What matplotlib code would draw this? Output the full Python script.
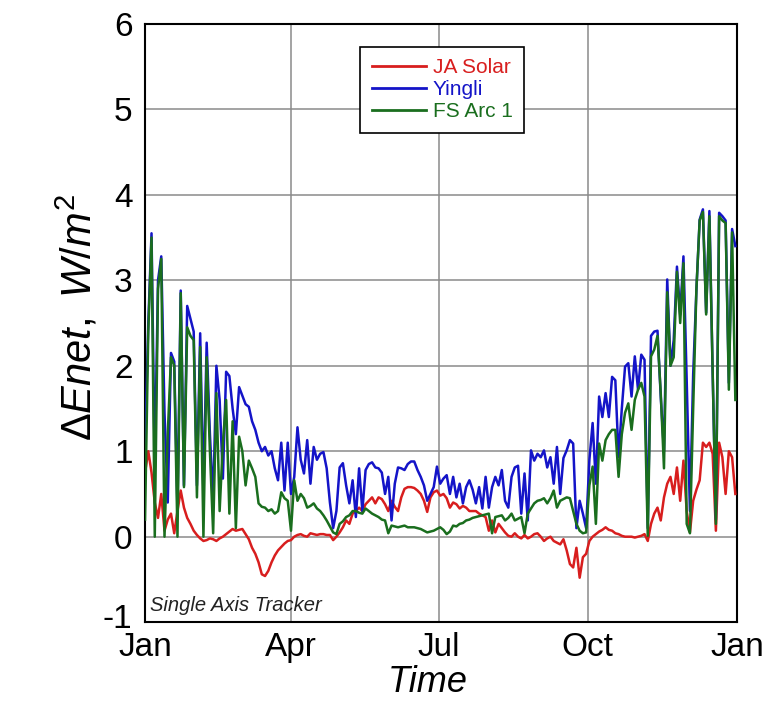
import matplotlib
matplotlib.use("Agg")
import matplotlib.pyplot as plt
import matplotlib.transforms as mtransforms
import numpy as np

plt.rcParams['font.family'] = ['Liberation Sans', 'DejaVu Sans']
plt.rcParams['mathtext.fontset'] = 'custom'
plt.rcParams['mathtext.rm'] = 'Liberation Sans'
plt.rcParams['mathtext.it'] = 'Liberation Sans:italic'
plt.rcParams['axes.unicode_minus'] = False

# day of year samples (every 2 days)
days = list(range(0, 365, 2))

ja_solar = [0.75, 1.0, 0.75, 0.4, 0.22, 0.5, 0.07, 0.2, 0.27, 0.04,
            0.3, 0.54, 0.34, 0.22, 0.15, 0.07, 0.02, -0.02, -0.05, -0.04,
            -0.02, -0.03, -0.05, -0.02, 0.0, 0.03, 0.06, 0.09, 0.07, 0.08,
            0.09, 0.03, -0.03, -0.13, -0.2, -0.3, -0.44, -0.46, -0.4, -0.3,
            -0.22, -0.16, -0.12, -0.08, -0.05, -0.04, 0.0, 0.02, 0.03, 0.01,
            0.0, 0.04, 0.03, 0.02, 0.03, 0.03, 0.02, 0.02, -0.04, 0.0,
            0.05, 0.11, 0.19, 0.15, 0.27, 0.3, 0.34, 0.3, 0.38, 0.42,
            0.46, 0.39, 0.46, 0.44, 0.38, 0.3, 0.42, 0.35, 0.3, 0.46,
            0.56, 0.58, 0.58, 0.57, 0.54, 0.5, 0.42, 0.29, 0.46, 0.52,
            0.54, 0.48, 0.5, 0.45, 0.34, 0.4, 0.38, 0.33, 0.36, 0.34,
            0.3, 0.3, 0.3, 0.27, 0.25, 0.23, 0.07, 0.19, 0.05, 0.15,
            0.1, 0.05, 0.01, 0.0, 0.04, 0.0, -0.02, 0.02, -0.02, 0.0,
            0.03, 0.04, 0.0, -0.05, -0.02, 0.0, -0.05, -0.07, -0.09, -0.03,
            -0.16, -0.32, -0.36, -0.13, -0.48, -0.24, -0.2, -0.05, 0.0, 0.03,
            0.06, 0.08, 0.11, 0.08, 0.07, 0.04, 0.03, 0.01, 0.0, 0.0,
            0.0, -0.01, 0.0, 0.01, 0.03, -0.05, 0.15, 0.27, 0.34, 0.19,
            0.46, 0.62, 0.7, 0.5, 0.81, 0.42, 0.89, 0.3, 0.05, 0.42,
            0.55, 0.66, 1.1, 1.05, 1.1, 0.97, 0.07, 1.1, 0.93, 0.5,
            1.0, 0.93, 0.5]

yingli = [1.0, 2.5, 3.55, 0.8, 3.0, 3.28, 1.45, 0.4, 2.15, 2.05,
          0.3, 2.88, 0.6, 2.7, 2.55, 2.4, 0.6, 2.38, 0.5, 2.27,
          1.2, 0.4, 2.0, 1.6, 0.68, 1.93, 1.88, 1.5, 1.2, 1.75,
          1.65, 1.55, 1.52, 1.35, 1.25, 1.1, 1.0, 1.05, 0.95, 1.0,
          0.8, 0.66, 1.1, 0.54, 1.1, 0.5, 0.7, 1.28, 0.9, 0.74,
          1.13, 0.62, 1.05, 0.9, 0.97, 0.99, 0.8, 0.4, 0.1, 0.3,
          0.81, 0.86, 0.6, 0.39, 0.66, 0.23, 0.8, 0.3, 0.78, 0.85,
          0.87, 0.81, 0.8, 0.75, 0.5, 0.7, 0.19, 0.62, 0.81, 0.8,
          0.78, 0.85, 0.88, 0.88, 0.78, 0.7, 0.6, 0.42, 0.5, 0.58,
          0.82, 0.62, 0.68, 0.72, 0.5, 0.7, 0.46, 0.62, 0.39, 0.58,
          0.66, 0.55, 0.39, 0.58, 0.33, 0.7, 0.34, 0.58, 0.7, 0.6,
          0.78, 0.42, 0.34, 0.7, 0.81, 0.83, 0.27, 0.74, 0.19, 1.01,
          0.89, 0.97, 0.93, 1.01, 0.81, 0.93, 0.62, 1.05, 0.5, 0.92,
          1.01, 1.13, 1.09, 0.1, 0.42, 0.27, 0.1, 0.9, 1.33, 0.62,
          1.64, 1.4, 1.68, 1.4, 1.87, 1.83, 0.93, 1.5, 1.99, 2.03,
          1.64, 2.11, 1.72, 2.13, 2.07, 0.1, 2.35, 2.4, 2.41, 1.64,
          1.0, 3.01, 2.0, 2.3, 3.16, 2.6, 3.28, 1.83, 0.3, 1.9,
          2.89, 3.71, 3.83, 2.62, 3.81, 1.92, 0.2, 3.79, 3.75, 3.7,
          1.8, 3.6, 3.4]

fs_arc1 = [0.2, 2.4, 3.5, 0.0, 2.9, 3.25, 0.0, 1.2, 2.1, 2.0,
           0.0, 2.85, 0.58, 2.45, 2.35, 2.3, 0.46, 2.22, 0.0, 2.1,
           1.0, 0.04, 1.68, 0.3, 1.1, 1.6, 0.27, 1.35, 0.1, 1.17,
           1.0, 0.6, 0.89, 0.8, 0.7, 0.39, 0.35, 0.34, 0.3, 0.32,
           0.27, 0.3, 0.52, 0.45, 0.42, 0.07, 0.66, 0.42, 0.5, 0.45,
           0.34, 0.36, 0.39, 0.33, 0.3, 0.25, 0.19, 0.12, 0.05, 0.03,
           0.15, 0.18, 0.23, 0.25, 0.3, 0.3, 0.28, 0.27, 0.33, 0.3,
           0.27, 0.25, 0.23, 0.2, 0.19, 0.04, 0.13, 0.12, 0.11, 0.12,
           0.13, 0.11, 0.11, 0.11, 0.1, 0.09, 0.07, 0.05, 0.06, 0.07,
           0.09, 0.11, 0.08, 0.03, 0.06, 0.13, 0.12, 0.15, 0.16, 0.19,
           0.2, 0.22, 0.23, 0.24, 0.25, 0.26, 0.27, 0.04, 0.23, 0.24,
           0.25, 0.19, 0.22, 0.27, 0.19, 0.21, 0.23, 0.04, 0.27, 0.33,
           0.39, 0.42, 0.43, 0.45, 0.39, 0.45, 0.54, 0.34, 0.42, 0.44,
           0.46, 0.45, 0.3, 0.15, 0.07, 0.04, 0.05, 0.6, 0.82, 0.15,
           1.09, 0.89, 1.13, 1.2, 1.25, 1.25, 0.7, 1.2, 1.45, 1.56,
           1.25, 1.6, 1.72, 1.8, 1.64, 0.01, 2.11, 2.19, 2.35, 1.68,
           0.8, 2.86, 2.0, 2.1, 3.1, 2.5, 3.2, 0.15, 0.04, 1.5,
           2.9, 3.7, 3.8, 2.6, 3.75, 1.92, 0.15, 3.75, 3.7, 3.67,
           1.72, 3.56, 1.6]

month_ticks = [0, 90, 181, 273, 365]
month_labels = ['Jan', 'Apr', 'Jul', 'Oct', 'Jan']

fig = plt.figure(figsize=(7.84, 7.03), dpi=100)
ax = fig.add_axes([0.185, 0.115, 0.755, 0.851])

ax.plot(days, ja_solar, color='#d81e1e', lw=1.8, label='JA Solar', zorder=3)
ax.plot(days, yingli, color='#1414c8', lw=1.8, label='Yingli', zorder=3)
ax.plot(days, fs_arc1, color='#1a6e1e', lw=1.8, label='FS Arc 1', zorder=4)

ax.set_xlim(0, 365)
ax.set_ylim(-1, 6)
ax.set_xticks(month_ticks)
ax.set_xticklabels(month_labels)
ax.set_yticks(range(-1, 7))
ax.tick_params(axis='both', labelsize=24, length=0)
ax.tick_params(axis='y', pad=9)
ax.tick_params(axis='x', pad=7)
ax.grid(True, color='#8a8a8a', lw=1.1, zorder=0)
for s in ax.spines.values():
    s.set_linewidth(1.5)
    s.set_color('black')

# nudge the bottom y tick label up a little, as in the reference
lbl = ax.get_yticklabels()[0]
lbl.set_transform(lbl.get_transform() +
                  mtransforms.ScaledTranslation(0, 6 / 100, fig.dpi_scale_trans))

ax.set_xlabel('Time', fontsize=26, style='italic')
ax.xaxis.set_label_coords(0.478, -0.072)
ax.set_ylabel(r'$\Delta Enet,\ W/m^2$', fontsize=30)
ax.yaxis.set_label_coords(-0.075, 0.51)

ax.text(0.009, 0.018, 'Single Axis Tracker', transform=ax.transAxes,
        fontsize=14.5, style='italic', ha='left', va='baseline', color='#222222')

leg = ax.legend(loc='upper center', bbox_to_anchor=(0.502, 0.962), fontsize=15,
                frameon=True, fancybox=False, edgecolor='black', framealpha=1,
                handlelength=2.6, handletextpad=0.35, borderpad=0.55,
                labelspacing=0.15, borderaxespad=0)
leg.get_frame().set_linewidth(1.2)
for t, l in zip(leg.get_texts(), leg.get_lines()):
    t.set_color(l.get_color())
    l.set_linewidth(2.0)

fig.savefig('out.png', dpi=100)
